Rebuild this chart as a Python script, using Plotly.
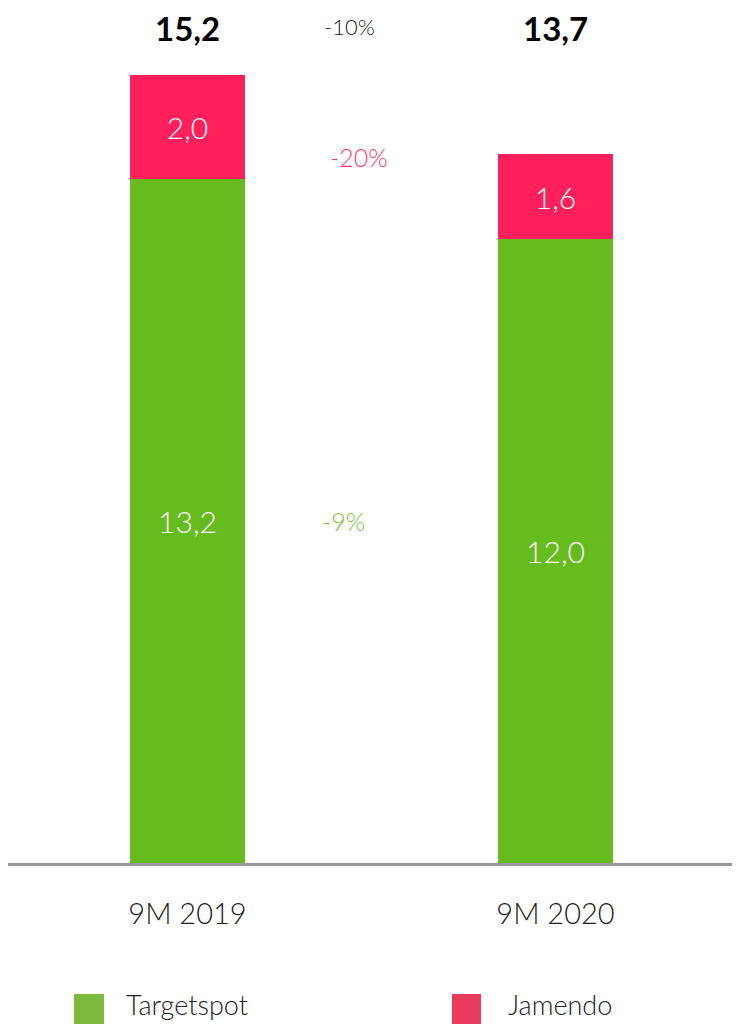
import plotly.graph_objects as go

categories = ["9M 2019", "9M 2020"]
targetspot = [13.2, 12.04]
jamendo = [2.0, 1.63]
totals = [15.2, 13.7]
change_total = "-10%"
change_jamendo = "-20%"
change_targetspot = "-9%"
legend_names = ["Targetspot", "Jamendo"]

GREEN = "#66BB1E"
PINK = "#FF1F5A"
FONT = "Lato"
W, H = 732, 1016      # page adds an 8px body margin
PX_PER_UNIT = 51.84

def fmt(v):
    return f"{v:.1f}".replace(".", ",")

fig = go.Figure()
for vals, name, col in [(targetspot, legend_names[0], GREEN), (jamendo, legend_names[1], PINK)]:
    fig.add_trace(go.Bar(
        x=[0, 1], y=vals, name=name, marker_color=col,
        marker_line_width=0, width=0.3125,
        text=[fmt(v) for v in vals], textposition="inside",
        insidetextanchor="middle",
        textfont=dict(family=FONT, size=30, color="white", weight=300),
    ))

ymax = (863 - 8) / PX_PER_UNIT
annotations = []
for i, t in enumerate(totals):
    annotations.append(dict(x=i, y=ymax, xref="x", yref="y", text=fmt(t),
                            yanchor="top", yshift=2, showarrow=False,
                            font=dict(family=FONT, size=33, color="black", weight=700)))
annotations.append(dict(x=0.5, y=16.13, xref="x", yref="y", text=change_total,
                        xshift=-22, showarrow=False,
                        font=dict(family=FONT, size=22, color="#222222", weight=300)))
annotations.append(dict(x=0.5, y=13.62, xref="x", yref="y", text=change_jamendo,
                        xshift=-13, showarrow=False,
                        font=dict(family=FONT, size=25, color="#FF3D6E", weight=300)))
annotations.append(dict(x=0.5, y=6.6, xref="x", yref="y", text=change_targetspot,
                        xshift=-28, showarrow=False,
                        font=dict(family=FONT, size=25, color="#7CC63C", weight=300)))

# custom legend
legend_colors = ["#7DB93E", "#EA3D5E"]
legend_sq = [(74, 104), (452, 481)]
legend_tx = [124, 506]
shapes = []
def px2x(px):
    return (px - 8) / W
def py2y(py):
    return (863 - py) / (863 - 8)
for (x0, x1), col, tx, name in zip(legend_sq, legend_colors, legend_tx, legend_names):
    shapes.append(dict(type="rect", xref="paper", yref="paper",
                       x0=px2x(x0), x1=px2x(x1), y0=py2y(1030), y1=py2y(994),
                       fillcolor=col, line_width=0))
    annotations.append(dict(x=px2x(tx), y=py2y(1004), xref="paper", yref="paper",
                            text=name, showarrow=False, xanchor="left", yanchor="middle",
                            font=dict(family=FONT, size=27, color="#222222", weight=300)))

x0 = -(187.5 - 8) / 368
fig.update_layout(
    barmode="stack",
    width=W, height=H,
    margin=dict(l=0, r=0, t=0, b=H - (863 - 8)),
    paper_bgcolor="white", plot_bgcolor="white",
    showlegend=False,
    annotations=annotations,
    shapes=shapes,
)
fig.update_xaxes(range=[x0, x0 + W / 368], showline=True, linecolor="#999999", linewidth=3,
                 tickmode="array", tickvals=[0, 1], ticktext=categories,
                 ticks="", ticklabelstandoff=23,
                 tickfont=dict(family=FONT, size=29, color="#222222", weight=300),
                 showgrid=False, zeroline=False)
fig.update_yaxes(range=[0, ymax], visible=False, showgrid=False, zeroline=False)

fig.write_html("out.html")
